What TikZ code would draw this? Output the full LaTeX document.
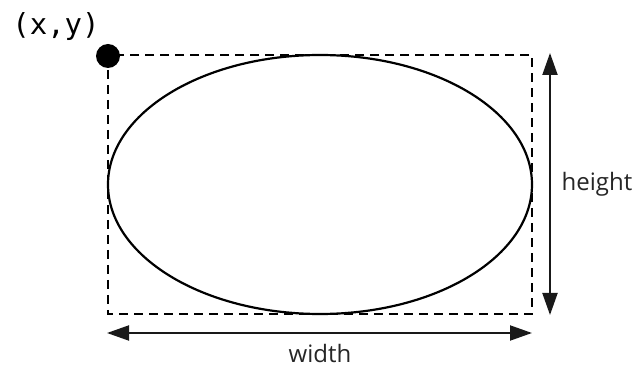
\documentclass[tikz,border=0pt]{standalone}
\usepackage{fontspec}
\setmainfont{Open Sans}
\newfontfamily\monofont{DejaVu Sans Mono}
\usetikzlibrary{arrows.meta}
\tikzset{
  dimarrow/.style={line width=2pt, draw=black!90, {Triangle[length=22pt,width=15pt]}-{Triangle[length=22pt,width=15pt]}},
  boxline/.style={line width=2.2pt, dash pattern=on 9pt off 6pt},
  lbl/.style={font=\fontsize{24}{28}\selectfont, text=black!85},
}
\begin{document}
\begin{tikzpicture}[x=1pt,y=-1pt]
\useasboundingbox (0,0) rectangle (641,374);
\coordinate (tl) at (108,55);
\coordinate (br) at (532,314);
\draw[boxline] (tl) rectangle (br);
\draw[line width=2.2pt] (320,184.5) ellipse [x radius=212, y radius=129.5];
\fill (108,56) circle [radius=12] node (dot) {};
\node[font=\monofont\fontsize{29}{32}\selectfont, anchor=base] (xy) at (56,35) {(x,y)};
\coordinate (ht) at (550,53);
\coordinate (hb) at (550,315);
\draw[dimarrow] (ht) -- (hb);
\coordinate (wl) at (107,333);
\coordinate (wr) at (532,333);
\draw[dimarrow] (wl) -- (wr);
\node[lbl] (h) at (597,184) {height};
\node[lbl] (w) at (320,354) {width};
\end{tikzpicture}
\end{document}
